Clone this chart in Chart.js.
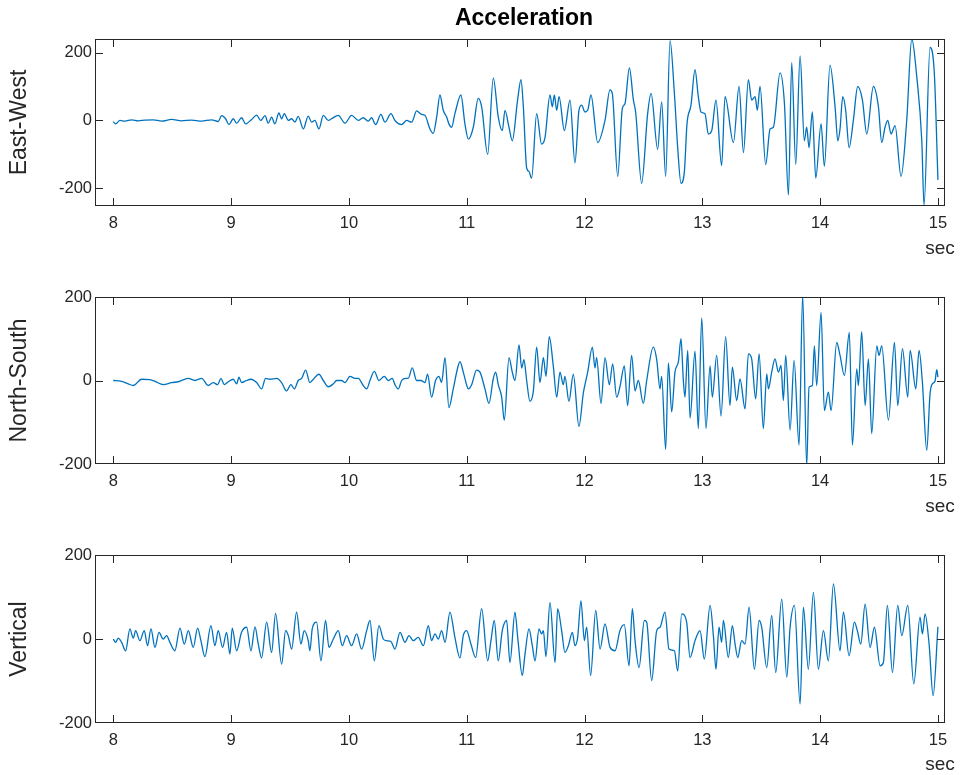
<!DOCTYPE html>
<html>
<head>
<meta charset="utf-8">
<script src="https://cdn.jsdelivr.net/npm/chart.js@4/dist/chart.umd.min.js"></script>
<style>
html,body{margin:0;padding:0;background:#fff;}
#wrap{position:relative;width:963px;height:775px;background:#fff;}
canvas{position:absolute;left:0;}
</style>
</head>
<body>
<div id="wrap">
<canvas id="c1" width="963" height="258" style="top:0px"></canvas>
<canvas id="c2" width="963" height="258" style="top:258px"></canvas>
<canvas id="c3" width="963" height="259" style="top:516px"></canvas>
</div>
<script>
const chartTitle = 'Acceleration';
const xUnit = 'sec';
const xTicks = [8, 9, 10, 11, 12, 13, 14, 15];
const yTicks = [-200, 0, 200];
const panelLabels = ['East-West', 'North-South', 'Vertical'];

// East-West
const ewTime = [8.000,8.020,8.057,8.099,8.156,8.212,8.269,8.340,8.410,8.495,8.580,8.665,8.750,8.835,8.891,8.920,8.954,8.982,9.019,9.047,9.089,9.123,9.174,9.217,9.251,9.288,9.316,9.344,9.372,9.406,9.429,9.452,9.486,9.514,9.542,9.570,9.613,
9.655,9.684,9.712,9.746,9.783,9.825,9.853,9.910,9.967,10.023,10.080,10.122,10.165,10.193,10.227,10.272,10.306,10.357,10.391,10.448,10.490,10.533,10.575,10.617,10.646,10.688,10.716,10.745,10.773,10.801,10.830,10.849,10.872,10.900,10.951,10.985,11.014,11.056,11.098,11.127,11.178,11.226,11.268,11.302,11.325,11.359,11.387,11.432,
11.461,11.481,11.509,11.529,11.551,11.594,11.636,11.665,11.707,11.727,11.744,11.764,11.784,11.829,11.877,11.919,11.953,11.976,12.004,12.027,12.055,12.112,12.174,12.216,12.236,12.282,12.321,12.344,12.381,12.415,12.434,12.485,12.536,12.565,12.621,12.655,12.689,12.726,12.763,12.791,12.819,12.848,12.870,12.904,12.938,12.966,12.989,13.023,13.051,13.080,13.116,13.164,13.193,
13.264,13.312,13.349,13.391,13.419,13.448,13.467,13.490,13.538,13.575,13.603,13.660,13.697,13.731,13.759,13.793,13.830,13.866,13.886,13.906,13.934,13.963,14.008,14.036,14.084,14.127,14.150,14.169,14.192,14.217,14.246,14.282,14.319,14.359,14.396,14.452,14.495,14.523,14.551,14.574,14.602,14.636,14.687,14.735,14.778,14.820,14.863,14.882,14.933,14.970,15.000];
const ewAcc = [-4,-10,0,-2,2,-1,1,2,-2,3,-1,1,-2,2,-3,14,5,-12,5,-8,8,-10,3,16,0,14,-8,10,-10,22,5,20,0,5,-5,12,-25,
13,-5,0,-25,15,0,5,15,-8,15,0,8,-2,8,-12,18,-5,20,0,-12,0,-5,28,18,15,-25,-38,10,75,30,10,-10,-20,20,75,-10,-55,-20,65,40,-100,125,10,-30,30,-20,-60,60,
120,40,-140,-150,-170,20,-70,-50,75,40,75,30,70,-30,60,-125,30,45,25,30,75,-65,0,90,80,-165,35,50,155,60,25,-185,20,80,-85,55,-165,235,80,-80,-185,-150,-10,45,150,70,25,20,-40,-30,60,-133,70,
-65,100,-95,120,60,70,30,100,-130,-25,-20,140,50,-220,170,-130,190,-60,-20,-80,25,-170,-10,-135,163,40,-60,-25,70,30,-80,0,100,60,-40,100,40,-65,-20,0,-40,-15,-165,0,241,130,-60,-250,215,135,-175];

// North-South
const nsTime = [8.000,8.071,8.127,8.170,8.241,8.311,8.354,8.424,8.495,8.552,8.637,8.693,8.750,8.806,8.849,8.886,8.914,8.942,8.976,9.019,9.047,9.067,9.089,9.132,9.169,9.217,9.259,9.293,9.330,9.387,9.429,9.471,9.508,9.537,9.570,9.599,9.633,
9.669,9.689,9.746,9.783,9.825,9.868,9.896,9.938,9.967,10.009,10.052,10.080,10.122,10.151,10.179,10.216,10.255,10.300,10.334,10.368,10.391,10.419,10.448,10.482,10.504,10.538,10.575,10.612,10.646,10.668,10.702,10.736,10.765,10.787,10.816,10.849,10.886,10.923,10.943,10.971,10.999,11.014,11.042,11.084,11.113,11.155,11.189,11.226,11.246,11.268,11.297,11.319,11.359,11.387,11.410,11.444,
11.467,11.486,11.509,11.537,11.566,11.594,11.622,11.651,11.673,11.701,11.735,11.764,11.792,11.820,11.834,11.868,11.905,11.953,11.990,12.027,12.067,12.089,12.103,12.140,12.174,12.211,12.239,12.273,12.301,12.338,12.366,12.400,12.429,12.457,12.499,12.528,12.584,12.613,12.641,12.655,12.689,12.712,12.740,12.768,12.797,12.819,12.839,12.853,12.876,12.896,12.938,12.966,12.995,13.031,13.066,13.085,13.122,13.159,13.198,
13.235,13.255,13.292,13.320,13.363,13.391,13.419,13.453,13.482,13.518,13.547,13.561,13.589,13.617,13.646,13.668,13.688,13.708,13.745,13.779,13.821,13.852,13.886,13.906,13.934,13.951,13.971,14.008,14.036,14.070,14.093,14.141,14.169,14.206,14.248,14.274,14.311,14.325,14.353,14.382,14.410,14.438,14.481,14.500,14.523,14.580,14.631,14.659,14.699,14.744,14.764,14.812,14.840,14.868,14.905,14.933,14.953,14.975,14.990,15.000];
const nsAcc = [0,-2,-8,-12,3,2,-2,-10,-5,-3,5,0,5,-12,-5,-10,5,-10,-3,3,-8,8,-5,0,3,-5,-20,5,3,5,-5,-25,-10,-20,0,5,25,
-5,0,15,0,-15,-8,0,0,-5,10,5,5,-12,-20,0,22,0,10,0,5,-10,-20,0,5,5,30,0,0,-5,15,-40,0,10,-5,55,-65,-20,30,45,20,-10,-20,-10,25,20,-20,-55,5,20,-10,-40,-95,55,20,0,85,
30,50,0,-50,-25,80,-5,55,10,105,35,-40,20,-10,10,-50,15,-110,-30,20,80,30,55,-55,55,-10,40,-40,-15,35,-60,60,-25,0,-55,0,80,50,-20,10,-165,42,-75,20,45,100,0,-40,72,-90,70,-115,150,-115,35,-40,60,-85,105,
-60,32,-48,4,-68,64,52,-44,64,-115,16,-20,20,52,20,36,-48,60,-119,48,-155,205,-205,-16,-12,83,-12,163,-72,-28,-72,91,60,12,115,-155,28,-12,117,-60,52,-127,83,60,83,-95,91,-60,76,-40,72,-20,72,-4,-167,-32,-8,-2,26,8];

// Vertical
const vTime = [8.000,8.020,8.042,8.071,8.105,8.141,8.170,8.190,8.226,8.263,8.291,8.320,8.354,8.388,8.424,8.453,8.481,8.523,8.566,8.603,8.637,8.679,8.716,8.744,8.778,8.829,8.863,8.891,8.928,8.962,8.990,9.010,9.047,9.089,9.132,9.169,9.203,9.231,9.259,9.302,9.344,9.378,9.429,9.463,9.486,9.514,9.556,9.593,9.621,9.655,
9.669,9.689,9.726,9.763,9.802,9.831,9.868,9.910,9.944,9.981,10.023,10.066,10.108,10.151,10.179,10.216,10.255,10.292,10.320,10.357,10.391,10.434,10.476,10.510,10.547,10.589,10.632,10.674,10.702,10.731,10.759,10.787,10.816,10.858,10.900,10.943,10.971,10.999,11.036,11.076,11.127,11.178,11.206,11.234,11.268,11.302,11.339,11.367,11.410,11.433,
11.472,11.495,11.529,11.557,11.580,11.614,11.636,11.651,11.673,11.707,11.750,11.772,11.806,11.834,11.863,11.897,11.919,11.942,11.970,11.999,12.018,12.052,12.095,12.132,12.174,12.217,12.259,12.301,12.338,12.378,12.406,12.429,12.463,12.508,12.528,12.570,12.613,12.641,12.683,12.717,12.763,12.791,12.825,12.867,12.896,12.938,12.981,13.017,13.066,13.094,13.116,13.142,13.164,13.179,13.221,
13.255,13.278,13.301,13.334,13.363,13.397,13.442,13.482,13.504,13.547,13.589,13.623,13.674,13.717,13.745,13.782,13.830,13.858,13.900,13.943,13.985,14.028,14.070,14.113,14.169,14.198,14.246,14.291,14.316,14.345,14.382,14.424,14.461,14.509,14.537,14.571,14.614,14.659,14.693,14.744,14.795,14.848,14.868,14.891,14.925,14.959,15.000];
const vAcc = [0,-8,2,-8,-28,24,2,20,-4,20,-16,24,-20,16,0,8,-8,-28,26,-12,20,-20,26,-4,-42,32,-16,20,-20,16,-36,26,-28,16,28,-28,29,-12,-45,40,-32,61,-60,20,8,-24,64,-12,20,-4,
-28,24,40,-52,44,-20,0,20,-16,8,-16,12,-24,20,44,-52,32,0,-4,-6,-24,16,-8,8,-4,4,-16,32,-4,12,0,20,-8,64,4,-45,8,20,-12,-44,72,-52,-4,44,-52,20,44,-56,64,4,
-87,-36,24,-16,-52,24,12,20,-42,87,-56,72,20,-32,-16,16,-16,4,91,-4,28,-87,68,-24,36,-20,-28,20,34,-64,72,-4,-68,44,40,-99,20,28,64,-24,-28,-76,60,40,-44,-4,20,-48,80,8,-72,28,-8,44,-44,
32,-12,-44,-4,-12,76,-72,44,28,-68,56,-80,95,-91,28,80,-155,76,-72,111,-72,20,-52,131,-28,64,-40,40,20,-12,83,-20,28,-64,-56,80,-80,80,8,80,-107,52,12,60,-12,-135,29];

const FONT = '"Liberation Sans", Arial, Helvetica, sans-serif';
const AXC = '#262626';

const framePlugin = {
  id: 'frame',
  afterDatasetsDraw(chart, args, opts) {
    const {ctx, chartArea: a, scales: {x, y}} = chart;
    const l = Math.round(a.left), r = Math.round(a.right), t = Math.round(a.top), b = Math.round(a.bottom);
    ctx.save();
    ctx.strokeStyle = AXC;
    ctx.lineWidth = 1;
    const L = 8;
    ctx.beginPath();
    x.ticks.forEach(tk => {
      const px = Math.round(x.getPixelForValue(tk.value)) + 0.5;
      if (px < l + 1.5 || px > r - 1.5) return;
      ctx.moveTo(px, b); ctx.lineTo(px, b - L);
      ctx.moveTo(px, t); ctx.lineTo(px, t + L);
    });
    y.ticks.forEach(tk => {
      const py = Math.round(y.getPixelForValue(tk.value)) + 0.5;
      if (py < t + 1.5 || py > b - 1.5) return;
      ctx.moveTo(l, py); ctx.lineTo(l + L, py);
      ctx.moveTo(r, py); ctx.lineTo(r - L, py);
    });
    ctx.stroke();
    ctx.strokeRect(l + 0.5, t + 0.5, r - l - 1, b - t - 1);
    ctx.fillStyle = AXC;
    ctx.textAlign = 'center';
    ctx.textBaseline = 'middle';
    ctx.font = '19px ' + FONT;
    ctx.fillText(xUnit, a.right - 5, 249);
    if (opts && opts.title) {
      ctx.font = 'bold 23px ' + FONT;
      ctx.fillStyle = '#000';
      ctx.fillText(opts.title, (a.left + a.right) / 2 + 4, 19);
    }
    ctx.restore();
  }
};

function makeChart(id, label, times, vals, ymin, ymax, title) {
  const pts = times.map((t, i) => ({x: t, y: vals[i]}));
  return new Chart(document.getElementById(id), {
    type: 'line',
    data: {datasets: [{data: pts, borderColor: '#0072BD', borderWidth: 1.3, pointRadius: 0,
      cubicInterpolationMode: 'monotone', fill: false}]},
    options: {
      responsive: false, animation: false, devicePixelRatio: 1,
      layout: {padding: {top: 39, right: 18, bottom: 12, left: 0}},
      plugins: {legend: {display: false}, tooltip: {enabled: false}, frame: {title: title}},
      scales: {
        x: {
          type: 'linear', min: 7.845, max: 15.06,
          grid: {display: false, drawTicks: false}, border: {display: false},
          afterBuildTicks: s => { s.ticks = xTicks.map(v => ({value: v})); },
          afterFit: s => { s.height = 40; },
          ticks: {padding: 8, color: AXC, font: {family: FONT, size: 16.5}, maxRotation: 0, autoSkip: false,
            callback: v => String(v)}
        },
        y: {
          type: 'linear', min: ymin, max: ymax,
          grid: {display: false, drawTicks: false}, border: {display: false},
          afterBuildTicks: s => { s.ticks = yTicks.map(v => ({value: v})); },
          afterFit: s => { s.width = 95; },
          ticks: {padding: 3, color: AXC, font: {family: FONT, size: 16.5}, autoSkip: false,
            callback: v => String(v)},
          title: {display: true, text: label, color: AXC, font: {family: FONT, size: 23}, padding: {top: 6, bottom: 0}}
        }
      }
    },
    plugins: [framePlugin]
  });
}

makeChart('c1', panelLabels[0], ewTime, ewAcc, -252, 240, chartTitle);
makeChart('c2', panelLabels[1], nsTime, nsAcc, -200, 200, null);
makeChart('c3', panelLabels[2], vTime, vAcc, -200, 200, null);
</script>
</body>
</html>
